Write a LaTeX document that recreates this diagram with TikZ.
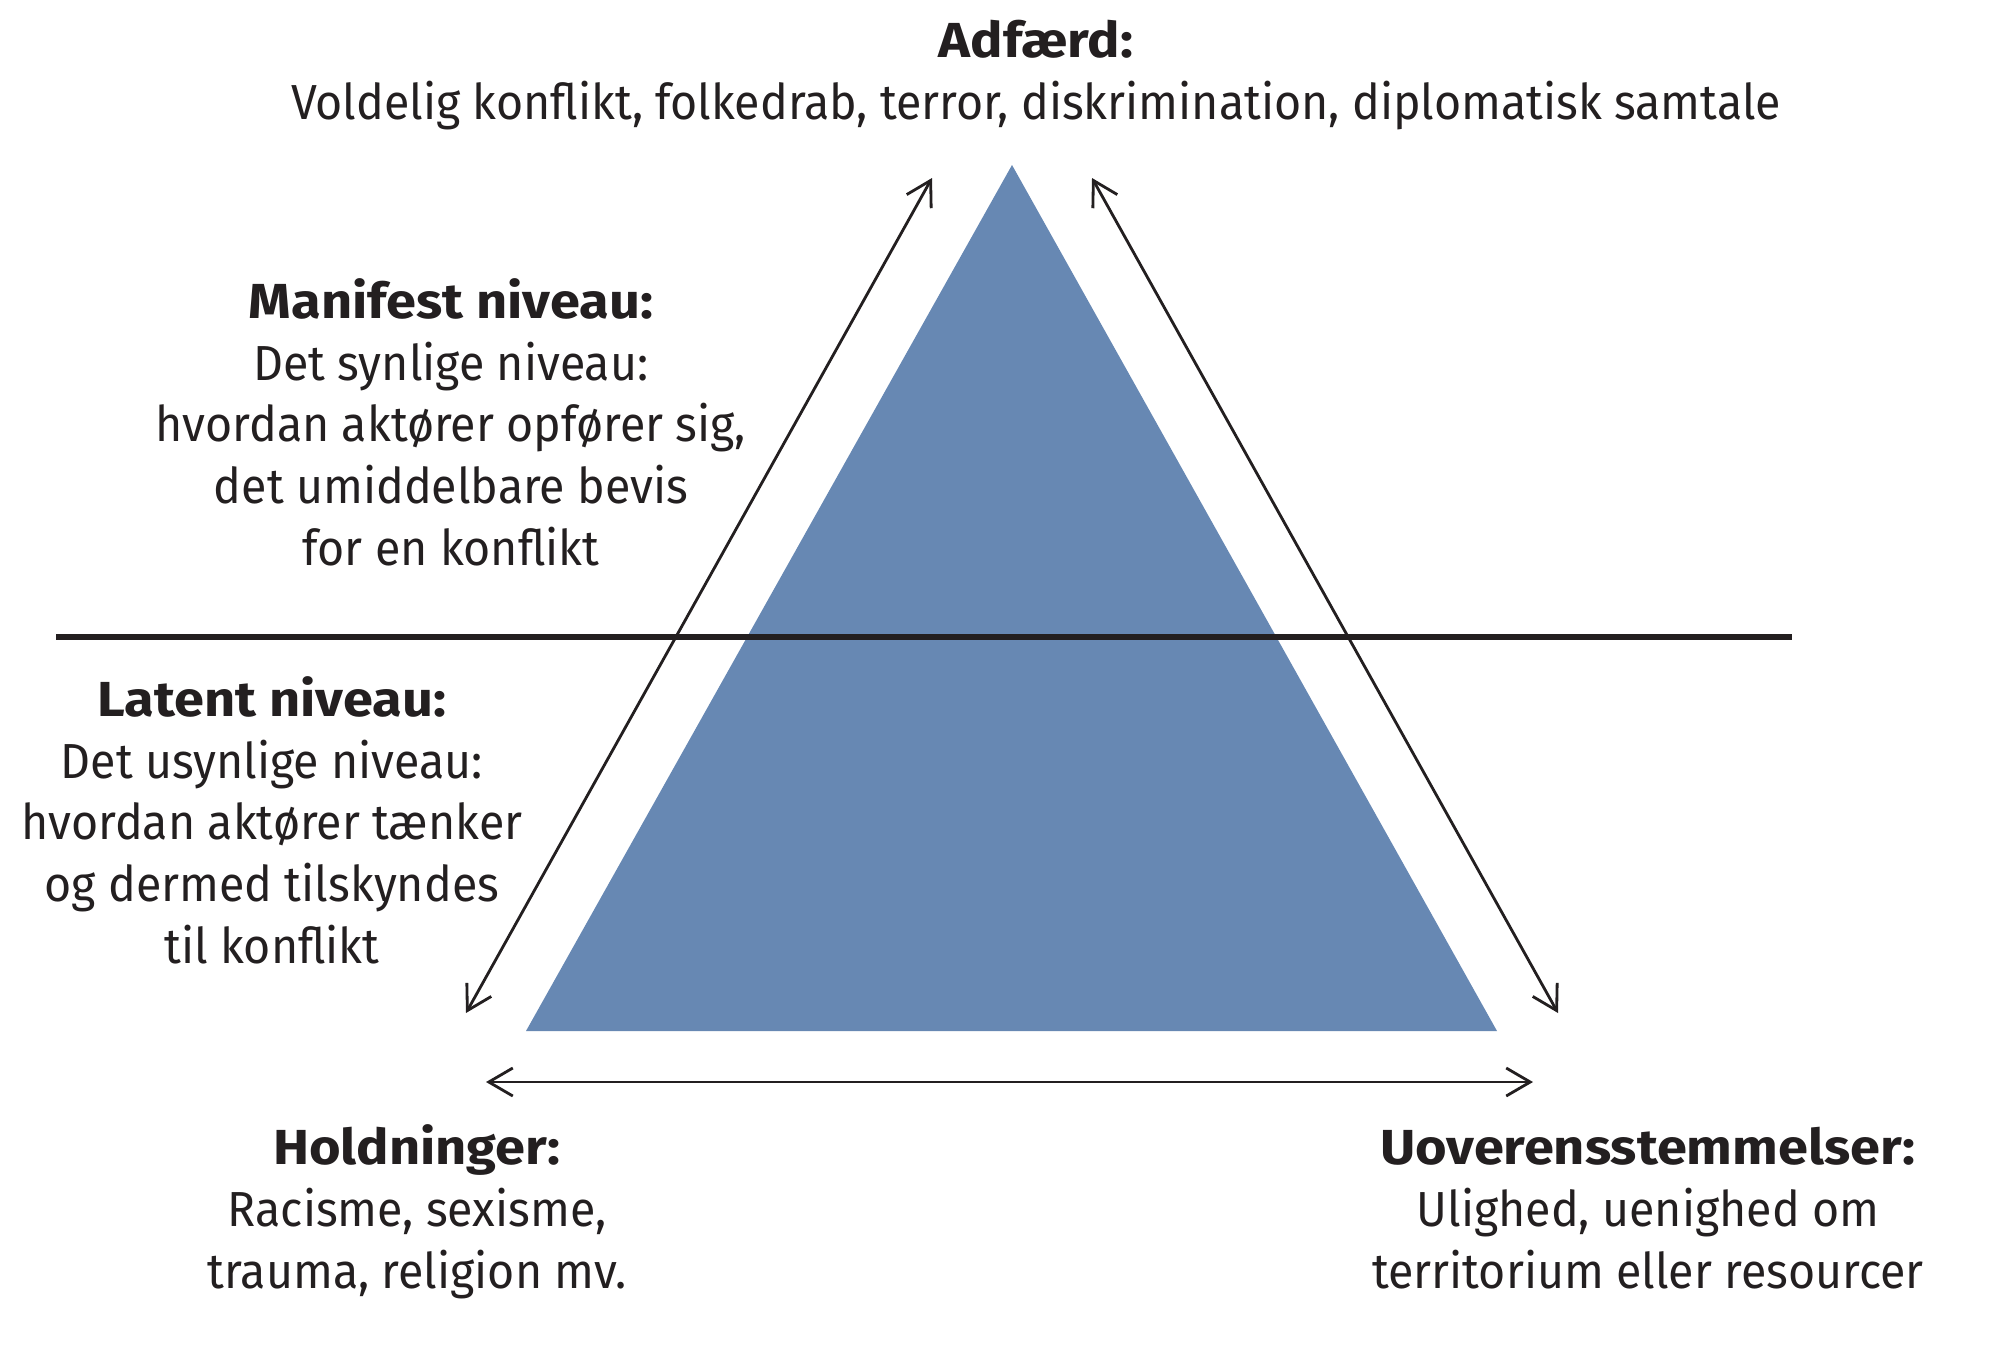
\documentclass[tikz,border=0pt]{standalone}
\usepackage{fontspec}
\setmainfont[FakeStretch=0.945]{Fira Sans}
\newfontfamily\headfont[FakeStretch=1.1]{Fira Sans}
\usetikzlibrary{arrows.meta}
\definecolor{pyramid}{RGB}{103,136,179}
\definecolor{ink}{RGB}{35,31,32}
\newcommand{\head}[1]{{\headfont\bfseries #1}}
\tikzset{every picture/.style={x=0.01cm,y=-0.01cm},
  lbl/.style={align=center,anchor=base,inner sep=0pt,text=ink,font=\fontsize{14}{17.5}\selectfont},
  twoway/.style={{Straight Barb[length=2.4mm,width=2.8mm]}-{Straight Barb[length=2.4mm,width=2.8mm]},line width=0.8pt,draw=ink}}

\begin{document}
\begin{tikzpicture}
            \useasboundingbox (0,0) rectangle (2000,1351);
            \coordinate (apex) at (1012,165);
            \coordinate (bl) at (526,1031);
            \coordinate (br) at (1497,1031);
            \fill[pyramid] (apex) -- (bl) -- (br) -- cycle;

            \coordinate (sepl) at (56,637);
            \coordinate (sepr) at (1792,637);
            \draw[ink,line width=1.6pt] (sepl) -- (sepr);

            \coordinate (lt) at (932,178);
            \coordinate (lb) at (466,1013);
            \coordinate (rt) at (1092,178);
            \coordinate (rb) at (1558,1013);
            \coordinate (hl) at (486,1082);
            \coordinate (hr) at (1533,1082);
            \foreach \from/\to in {lt/lb, rt/rb, hl/hr}
              \draw[twoway] (\from) -- (\to);

            % anchor = baseline of the last line
            \node[lbl] (adfaerd) at (1036,119) {\head{Adfærd:}\\Voldelig konflikt, folkedrab, terror, diskrimination, diplomatisk samtale};
            \node[lbl] (manifest) at (451,565) {\head{Manifest niveau:}\\Det synlige niveau:\\hvordan aktører opfører sig,\\det umiddelbare bevis\\for en konflikt};
            \node[lbl] (latent) at (272,963) {\head{Latent niveau:}\\Det usynlige niveau:\\hvordan aktører tænker\\og dermed tilskyndes\\til konflikt};
            \node[lbl] (holdninger) at (417,1288) {\head{Holdninger:}\\Racisme, sexisme,\\trauma, religion mv.};
            \node[lbl] (uoverens) at (1648,1288) {\head{Uoverensstemmelser:}\\Ulighed, uenighed om\\territorium eller resourcer};
        \end{tikzpicture}
\end{document}
